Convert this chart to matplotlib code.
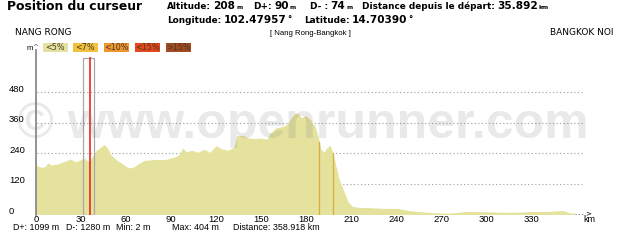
import matplotlib
matplotlib.use('Agg')
import matplotlib.pyplot as plt
from matplotlib.patches import Rectangle
from matplotlib.transforms import blended_transform_factory
import numpy as np

# profile (km, m)
dist_km = [0, 2, 4, 6, 8, 10, 14, 19, 23, 26, 29, 32, 34, 35.9, 37, 40, 43, 45.5, 48, 50,
           54, 58, 61, 64, 68, 72, 79, 86, 91, 95, 98, 100, 104, 108, 112, 116, 120, 124,
           128, 132, 134, 138, 142, 146, 150, 154, 156, 160, 164, 167, 170, 173, 175, 177,
           180, 183, 186, 188, 190, 192, 194, 196, 198, 200, 202, 205, 208, 211, 215, 222,
           232, 241, 250, 265, 276, 287, 298, 309, 320, 331, 342, 351, 356, 358.9]
alt_m = [194, 188, 185, 188, 203, 194, 198, 208, 218, 207, 213, 222, 212, 208, 224, 250, 264,
         275, 258, 234, 213, 198, 185, 183, 198, 212, 216, 216, 223, 232, 262, 246, 252, 244,
         256, 244, 270, 257, 252, 264, 310, 310, 300, 298, 300, 296, 318, 340, 345, 352, 378,
         400, 395, 380, 388, 372, 345, 310, 255, 245, 262, 272, 240, 190, 140, 95, 50, 32,
         28, 27, 24, 24, 14, 7, 5, 12, 11, 9, 9, 12, 12, 16, 6, 5]

x_ticks = [0, 30, 60, 90, 120, 150, 180, 210, 240, 270, 300, 330]
y_ticks = [0, 120, 240, 360, 480]
cursor_km = 35.892
cursor_box = (31.2, 38.9)
marks_km = [188.9, 198.0]

legend_labels = ['<5%', '<7%', '<10%', '<15%', '>15%']
legend_colors = ['#e4e2a2', '#f2c23e', '#ee9530', '#e4481e', '#a04a22']
legend_x = [43, 73, 104, 135, 166]

W, H = 640, 246
fig = plt.figure(figsize=(6.4, 2.46), dpi=100)
renderer = fig.canvas.get_renderer()

def px(x, y):
    return x / W, 1 - y / H

def ftext(x, y, s, **kw):
    fx, fy = px(x, y)
    return fig.text(fx, fy, s, **kw)

ax = fig.add_axes([36 / W, (H - 214.5) / H, (585 - 36) / W, (214.5 - 50) / H])
ax.set_xlim(0, 366)
ax.set_ylim(0, 646)
ax.patch.set_alpha(0)

ax.fill_between(dist_km, alt_m, 0, color='#e4e29c', lw=0, zorder=2)

for y in y_ticks[1:]:
    ax.plot([0.8, 366], [y, y], ls=(0, (1, 2.2)), color='#9a9a9a', lw=0.8, zorder=1)

# cursor
ax.add_patch(Rectangle((cursor_box[0], 0), cursor_box[1] - cursor_box[0], 613,
                       fill=False, ec='#a8a8a8', lw=0.9, zorder=3))
ax.plot([cursor_km, cursor_km], [0, 613], color='#e8281a', lw=1.2, zorder=4)
for m in marks_km:
    ax.plot([m, m], [0, np.interp(m, dist_km, alt_m)], color='#d9ae3c', lw=0.9, zorder=3)

# dotted end of x axis
ax.plot([359.5, 366], [1, 1], ls=(0, (1, 2)), color='#777777', lw=0.8, clip_on=False)

for s in ['top', 'right', 'bottom']:
    ax.spines[s].set_visible(False)
ax.spines['left'].set_color('#8a8a8a')
ax.spines['left'].set_linewidth(1.3)

ax.set_xticks(x_ticks)
ax.set_xticklabels([str(v) for v in x_ticks], fontsize=6.8, family='Liberation Sans')
ax.tick_params(axis='x', length=0, pad=0.2)
ax.set_yticks([])

tr = blended_transform_factory(fig.transFigure, ax.transData)
for y in y_ticks:
    ax.text(9 / W, y + 12, str(y), transform=tr, ha='left', va='center',
            fontsize=6.8, family='Liberation Sans')

# watermark
ax.text(0.5 * (15 + 590) / W, 352, '\u00a9 www.openrunner.com', transform=tr,
        ha='center', va='center', fontsize=36, weight='bold', family='Liberation Sans',
        color='#777777', alpha=0.16, zorder=5)

# axis labels
ftext(30, 49, 'm', fontsize=5.5, family='Liberation Sans', ha='center', va='center')
ftext(35.5, 47, '^', fontsize=5, family='DejaVu Sans', ha='center', va='center', color='#555555')
ftext(589, 219, 'km', fontsize=6.5, family='Liberation Sans', ha='center', va='center')
ftext(588, 213.5, '>', fontsize=5, family='DejaVu Sans', ha='center', va='center')

# legend boxes
for lab, col, lx in zip(legend_labels, legend_colors, legend_x):
    fx, fy = px(lx, 51.5)
    fig.patches.append(Rectangle((fx, fy), 24.5 / W, 8.5 / H, transform=fig.transFigure,
                                 fc=col, ec='none'))
    ftext(lx + 12.2, 47.3, lab, fontsize=5.8, family='DejaVu Sans', ha='center', va='center',
          color='#4a3a20')

# header
ftext(7, 9.5, 'Position du curseur', fontsize=8.9, weight='bold', family='DejaVu Sans',
      va='baseline')
small = dict(fontsize=6.4, weight='bold', family='DejaVu Sans', va='baseline')
big = dict(fontsize=7.6, weight='bold', family='DejaVu Sans', va='baseline')
unit = dict(fontsize=4.2, weight='bold', family='DejaVu Sans', va='baseline')
deg = dict(fontsize=6, weight='bold', family='DejaVu Sans', va='baseline')

def chain(x, y, parts):
    # parts: (label, value, unit) placed one after the other
    ust = deg if parts[2] == '°' else unit
    for i, st in enumerate([small, big, ust]):
        t = ftext(x, y, parts[i], **st)
        bb = t.get_window_extent(renderer)
        x = bb.x1 + 2.5 if i == 0 else bb.x1 + 0.8

line1 = [(167, ('Altitude:', '208', 'm')), (253, ('D+:', '90', 'm')),
         (310, ('D- :', '74', 'm')), (362, ('Distance depuis le départ:', '35.892', 'km'))]
line2 = [(167, ('Longitude:', '102.47957', '°')), (304, ('Latitude:', '14.70390', '°'))]
for x, parts in line1:
    chain(x, 9.3, parts)
for x, parts in line2:
    chain(x, 22.7, parts)

ftext(15, 35, 'NANG RONG', fontsize=6.5, family='DejaVu Sans', va='baseline')
ftext(310, 35, '[ Nang Rong-Bangkok ]', fontsize=5.6, family='Liberation Sans',
      ha='center', va='baseline')
ftext(613, 35, 'BANGKOK NOI', fontsize=6.5, family='DejaVu Sans', ha='right', va='baseline')

# summary
stats = [('D+: 1099 m', 13), ('D-: 1280 m', 66), ('Min: 2 m', 116),
         ('Max: 404 m', 172), ('Distance: 358.918 km', 233)]
for s, x in stats:
    ftext(x, 227, s, fontsize=6.4, family='Liberation Sans', va='center')

fig.savefig('out.png', dpi=100)
